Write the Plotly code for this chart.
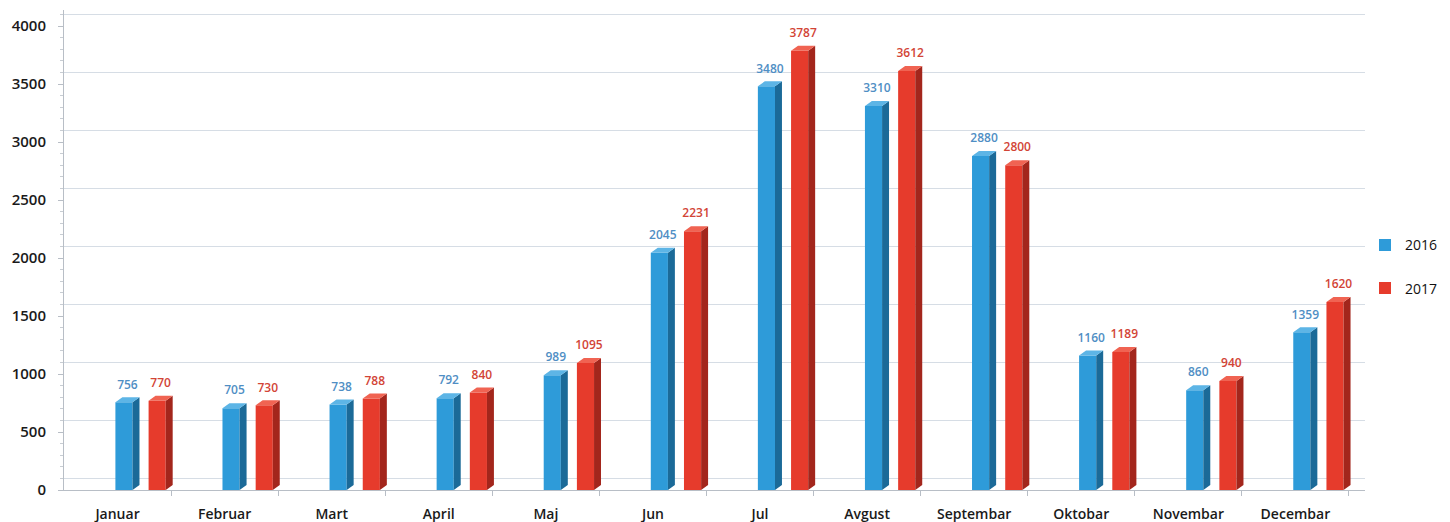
import plotly.graph_objects as go

months = ["Januar", "Februar", "Mart", "April", "Maj", "Jun", "Jul",
          "Avgust", "Septembar", "Oktobar", "Novembar", "Decembar"]
v2016 = [756, 705, 738, 792, 989, 2045, 3480, 3310, 2880, 1160, 860, 1359]
v2017 = [770, 730, 788, 840, 1095, 2231, 3787, 3612, 2800, 1189, 940, 1620]
series_names = ["2016", "2017"]
y_ticks = [0, 500, 1000, 1500, 2000, 2500, 3000, 3500, 4000]

idx = list(range(len(months)))

FRONT_W = 0.16
SIDE_W = 0.065
DEPTH = 43       # pseudo-3D depth in data units
LABEL_PAD = 50   # extra gap above the bar top for value labels (data units)
styles = [
    dict(fs=-0.02, front="#2E9BD9", side="#1B6A98", cap="#5DB5E6", text="#4F8EC4"),
    dict(fs=0.29, front="#E63B2C", side="#A3261C", cap="#F06352", text="#D24436"),
]

fig = go.Figure()

# invisible trace to register the back-wall grid axis
fig.add_trace(go.Scatter(x=[0], y=[0], yaxis="y2", mode="markers",
                         marker=dict(opacity=0), showlegend=False, hoverinfo="skip"))

for name, vals, st in zip(series_names, [v2016, v2017], styles):
    fig.add_trace(go.Bar(
        x=idx, y=vals, name=name, offset=st["fs"], width=FRONT_W,
        marker=dict(color=st["front"], line=dict(width=0)),
        legendgroup=name, hoverinfo="skip"))

for name, vals, st in zip(series_names, [v2016, v2017], styles):
    sx, sy, cx, cy = [], [], [], []
    for i, v in zip(idx, vals):
        fe = i + st["fs"] + FRONT_W
        se = fe + SIDE_W
        fs = i + st["fs"]
        sx += [fe, se, se, fe, fe, None]
        sy += [0, DEPTH, v + DEPTH, v, 0, None]
        cx += [fs, fe, se, fs + SIDE_W, fs, None]
        cy += [v, v, v + DEPTH, v + DEPTH, v, None]
    fig.add_trace(go.Scatter(x=sx, y=sy, mode="lines", fill="toself",
                             fillcolor=st["side"], line=dict(width=0, color=st["side"]),
                             showlegend=False, hoverinfo="skip"))
    fig.add_trace(go.Scatter(x=cx, y=cy, mode="lines", fill="toself",
                             fillcolor=st["cap"], line=dict(width=0, color=st["cap"]),
                             showlegend=False, hoverinfo="skip"))
    fig.add_trace(go.Scatter(
        x=[i + st["fs"] + (FRONT_W + SIDE_W) / 2 for i in idx],
        y=[v + DEPTH + LABEL_PAD for v in vals],
        mode="text", text=[str(v) for v in vals], textposition="top center",
        textfont=dict(family="Open Sans", size=12, color=st["text"], weight=600),
        showlegend=False, hoverinfo="skip", cliponaxis=False))

fig.update_layout(
    width=1450, height=522,
    margin=dict(l=64, r=85, t=10, b=32, autoexpand=False),
    paper_bgcolor="white", plot_bgcolor="white",
    barmode="overlay",
    showlegend=True,
    legend=dict(x=1.0, xanchor="left", y=0.465, yanchor="middle",
                font=dict(family="Open Sans", size=14, color="#111"),
                tracegroupgap=22, itemwidth=30, bgcolor="rgba(0,0,0,0)"),
    xaxis=dict(
        range=[-0.5, 11.65], tickvals=idx, ticktext=months, ticks="",
        showgrid=False, zeroline=False, showline=True, linecolor="#B8BEC6", linewidth=1,
        tickfont=dict(family="Open Sans", size=14, color="#1a1a1a", weight=600),
        ticklabelstandoff=11,
        minor=dict(tickvals=[i + 0.5 for i in idx], ticks="outside", ticklen=5,
                   tickcolor="#B8BEC6", showgrid=False),
    ),
    yaxis=dict(
        range=[0, 4138], tickvals=y_ticks, showgrid=False, zeroline=False,
        showline=True, linecolor="#B8BEC6", linewidth=1,
        ticks="outside", ticklen=5, tickcolor="#B8BEC6",
        tickfont=dict(family="Open Sans", size=15, color="#1a1a1a", weight=600),
        ticklabelstandoff=9,
        minor=dict(dtick=100, ticks="outside", ticklen=3, tickcolor="#C8CDD3", showgrid=False),
    ),
    yaxis2=dict(
        range=[-103, 4035], overlaying="y", side="right", tickvals=y_ticks,
        showticklabels=False, showgrid=True, gridcolor="#D6DDE5", gridwidth=1,
        zeroline=False, showline=False, ticks="",
    ),
)

fig.write_html("out.html", config={"displayModeBar": False},
               post_script="document.body.style.margin='0';document.body.style.overflow='hidden';")
